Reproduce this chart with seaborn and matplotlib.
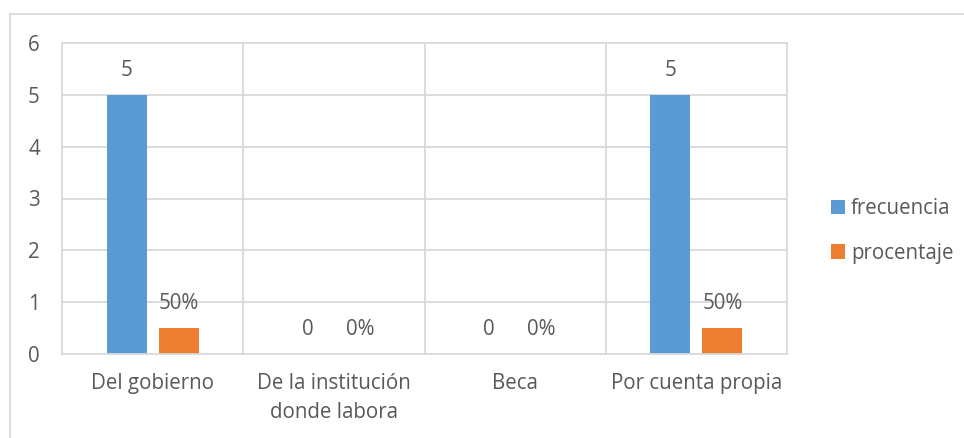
import matplotlib
matplotlib.use("Agg")
import matplotlib.pyplot as plt
import seaborn as sns
import pandas as pd
from matplotlib.lines import Line2D

categorias = ["Del gobierno", "De la institución\ndonde labora", "Beca", "Por cuenta propia"]
frecuencia = [5, 0, 0, 5]
procentaje = [0.5, 0, 0, 0.5]
etiquetas_frec = ["5", "0", "0", "5"]
etiquetas_porc = ["50%", "0%", "0%", "50%"]
series = ["frecuencia", "procentaje"]
colores = ["#5B9BD5", "#ED7D31"]
yticks = [0, 1, 2, 3, 4, 5, 6]

sns.set_theme(style="white")
plt.rcParams["font.family"] = ["Open Sans", "DejaVu Sans"]
txt = "#595959"
grid = "#D9D9D9"
fs = 14.8

df = pd.DataFrame({
    "cat": categorias * 2,
    "val": frecuencia + procentaje,
    "serie": [series[0]] * 4 + [series[1]] * 4,
})

fig = plt.figure(figsize=(9.64, 4.38), dpi=100)
ax = fig.add_axes([62/964, 1-354/438, (787-62)/964, (354-43)/438])

sns.barplot(data=df, x="cat", y="val", hue="serie", palette=colores,
            width=0.575, gap=0.23, ax=ax, saturation=1, legend=True,
            linewidth=0, edgecolor="none")

ax.set_ylim(0, 6)
ax.set_xlim(-0.5, 3.5)
ax.set_yticks(yticks)
ax.set_xlabel("")
ax.set_ylabel("")
for y in yticks[1:]:
    ax.axhline(y, color=grid, lw=1.3, zorder=0)
for x in [0.5, 1.5, 2.5]:
    ax.axvline(x, color=grid, lw=1.3, zorder=0)
for s in ax.spines.values():
    s.set_color(grid)
    s.set_linewidth(1.3)

ax.tick_params(axis="both", length=0, labelsize=fs, colors=txt)
ax.tick_params(axis="y", pad=16)
ax.tick_params(axis="x", pad=14)
for lab in ax.get_xticklabels():
    lab.set_linespacing(1.5)

for cont, labs in zip(ax.containers, [etiquetas_frec, etiquetas_porc]):
    ax.bar_label(cont, labels=labs, padding=10, fontsize=fs, color=txt)

h, l = ax.get_legend_handles_labels()
ax.legend_.remove()
fig.legend(h, l, loc="center left", bbox_to_anchor=(812/964, 1-231/438),
           frameon=False, fontsize=fs, handlelength=0.7, handleheight=0.7,
           handletextpad=0.3, labelspacing=1.15, labelcolor=txt)

fig.add_artist(Line2D([10/964, 10/964], [0, 1-14/438], transform=fig.transFigure, color=grid, lw=1.3))
fig.add_artist(Line2D([10/964, 1], [1-14/438, 1-14/438], transform=fig.transFigure, color=grid, lw=1.3))

fig.savefig("out.png", dpi=100)
